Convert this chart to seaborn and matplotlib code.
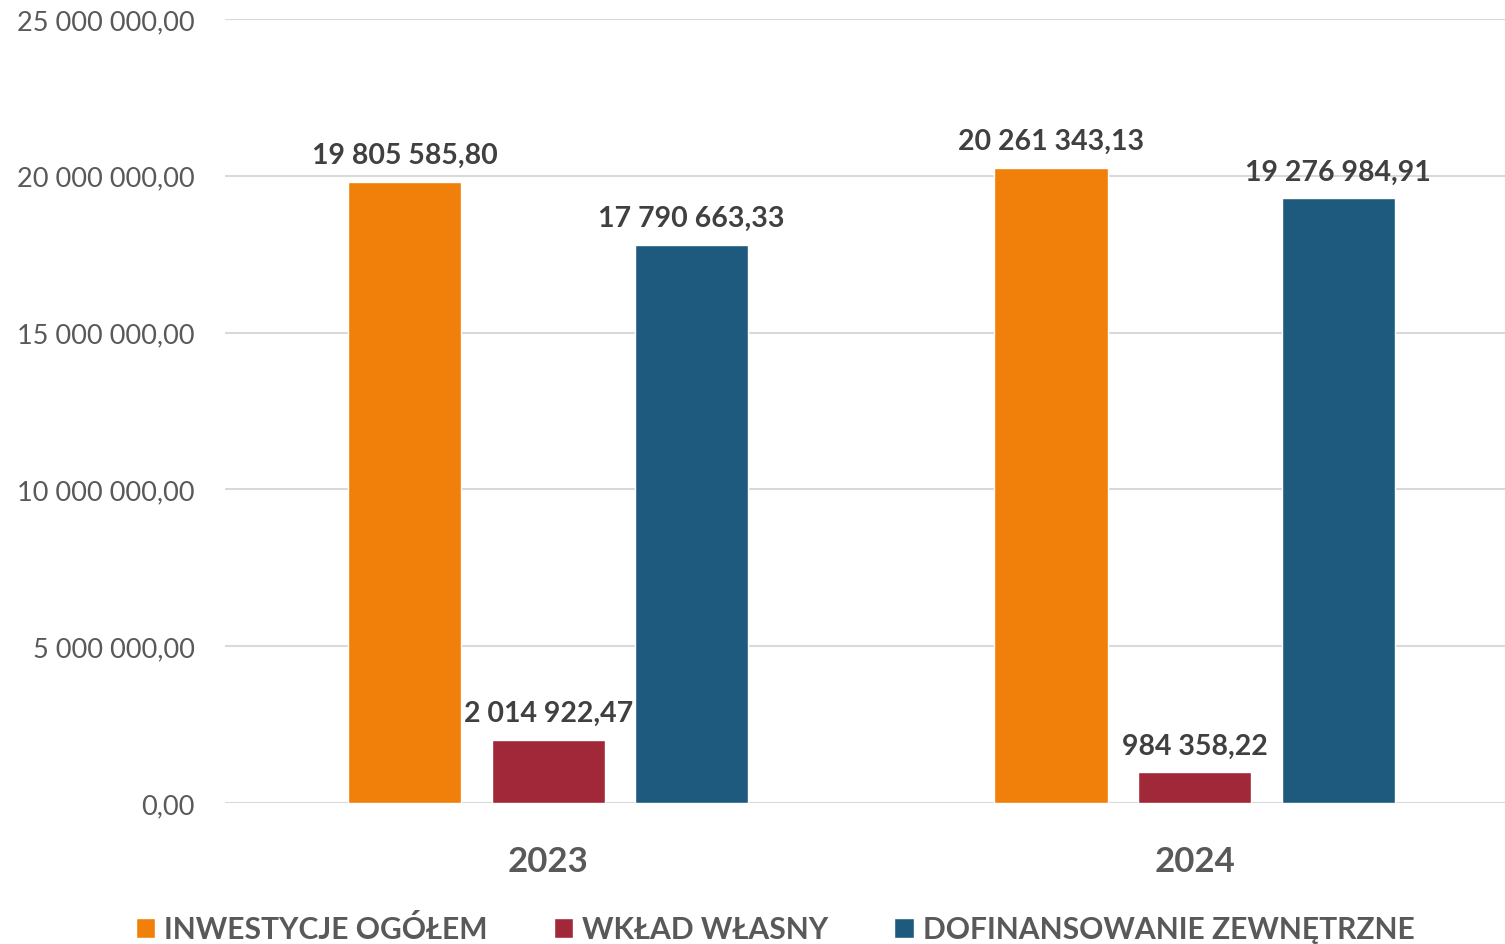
"""
Bar chart: investment totals, own contribution and external funding, 2023-2024.
"""

import pandas as pd
import matplotlib
matplotlib.use("Agg")
import matplotlib.pyplot as plt
import seaborn as sns
from matplotlib.ticker import FuncFormatter

# === 1. Data ===
years = ["2023", "2024"]
series = ["INWESTYCJE OGÓŁEM", "WKŁAD WŁASNY", "DOFINANSOWANIE ZEWNĘTRZNE"]
inwestycje = [19805585.80, 20261343.13]
wklad = [2014922.47, 984358.22]
dofinansowanie = [17790663.33, 19276984.91]
colors = ["#F0800A", "#A02838", "#1E5A7D"]

df = pd.DataFrame({
    "rok": years * 3,
    "seria": [series[0]] * 2 + [series[1]] * 2 + [series[2]] * 2,
    "kwota": inwestycje + wklad + dofinansowanie,
})


def pl_fmt(v, pos=None):
    s = f"{v:,.2f}"
    return s.replace(",", " ").replace(".", ",")


# === 2. Plot ===
sns.set_style("white")
plt.rcParams["font.family"] = ["Lato", "DejaVu Sans"]

fig = plt.figure(figsize=(15.05, 9.45), dpi=100)
ax = fig.add_axes([0.1495, 0.149, 0.8505, 0.830])

sns.barplot(data=df, x="rok", y="kwota", hue="seria", order=years,
            hue_order=series, palette=colors, width=0.666, gap=0.21,
            saturation=1, ax=ax, legend=True)

ax.set_ylim(0, 25000000)
ax.set_xlim(-0.5, 1.48)
ax.set_yticks(range(0, 25000001, 5000000))
ax.yaxis.set_major_formatter(FuncFormatter(pl_fmt))
ax.grid(axis="y", color="#D9D9D9", linewidth=1.5)
ax.set_axisbelow(True)
for sp in ax.spines.values():
    sp.set_visible(False)
ax.tick_params(axis="both", length=0)
ax.tick_params(axis="y", labelsize=19.5, labelcolor="#595959", pad=22)
ax.tick_params(axis="x", labelsize=25, labelcolor="#595959", pad=30)
for t in ax.get_xticklabels():
    t.set_fontweight("bold")
ax.set_xlabel("")
ax.set_ylabel("")

for cont in ax.containers:
    ax.bar_label(cont, labels=[pl_fmt(b.get_height()) for b in cont],
                 padding=10, fontsize=20.5, fontweight="bold", color="#404040")

handles, labels = ax.get_legend_handles_labels()
ax.get_legend().remove()
leg = fig.legend(handles, labels, loc="lower center", ncol=3, frameon=False,
                 bbox_to_anchor=(0.515, -0.028), fontsize=21.6,
                 handlelength=0.65, handleheight=0.65, handletextpad=0.3,
                 columnspacing=2.2)
for t in leg.get_texts():
    t.set_color("#595959")
    t.set_fontweight("bold")

fig.savefig("out.png", dpi=100)
plt.close(fig)
